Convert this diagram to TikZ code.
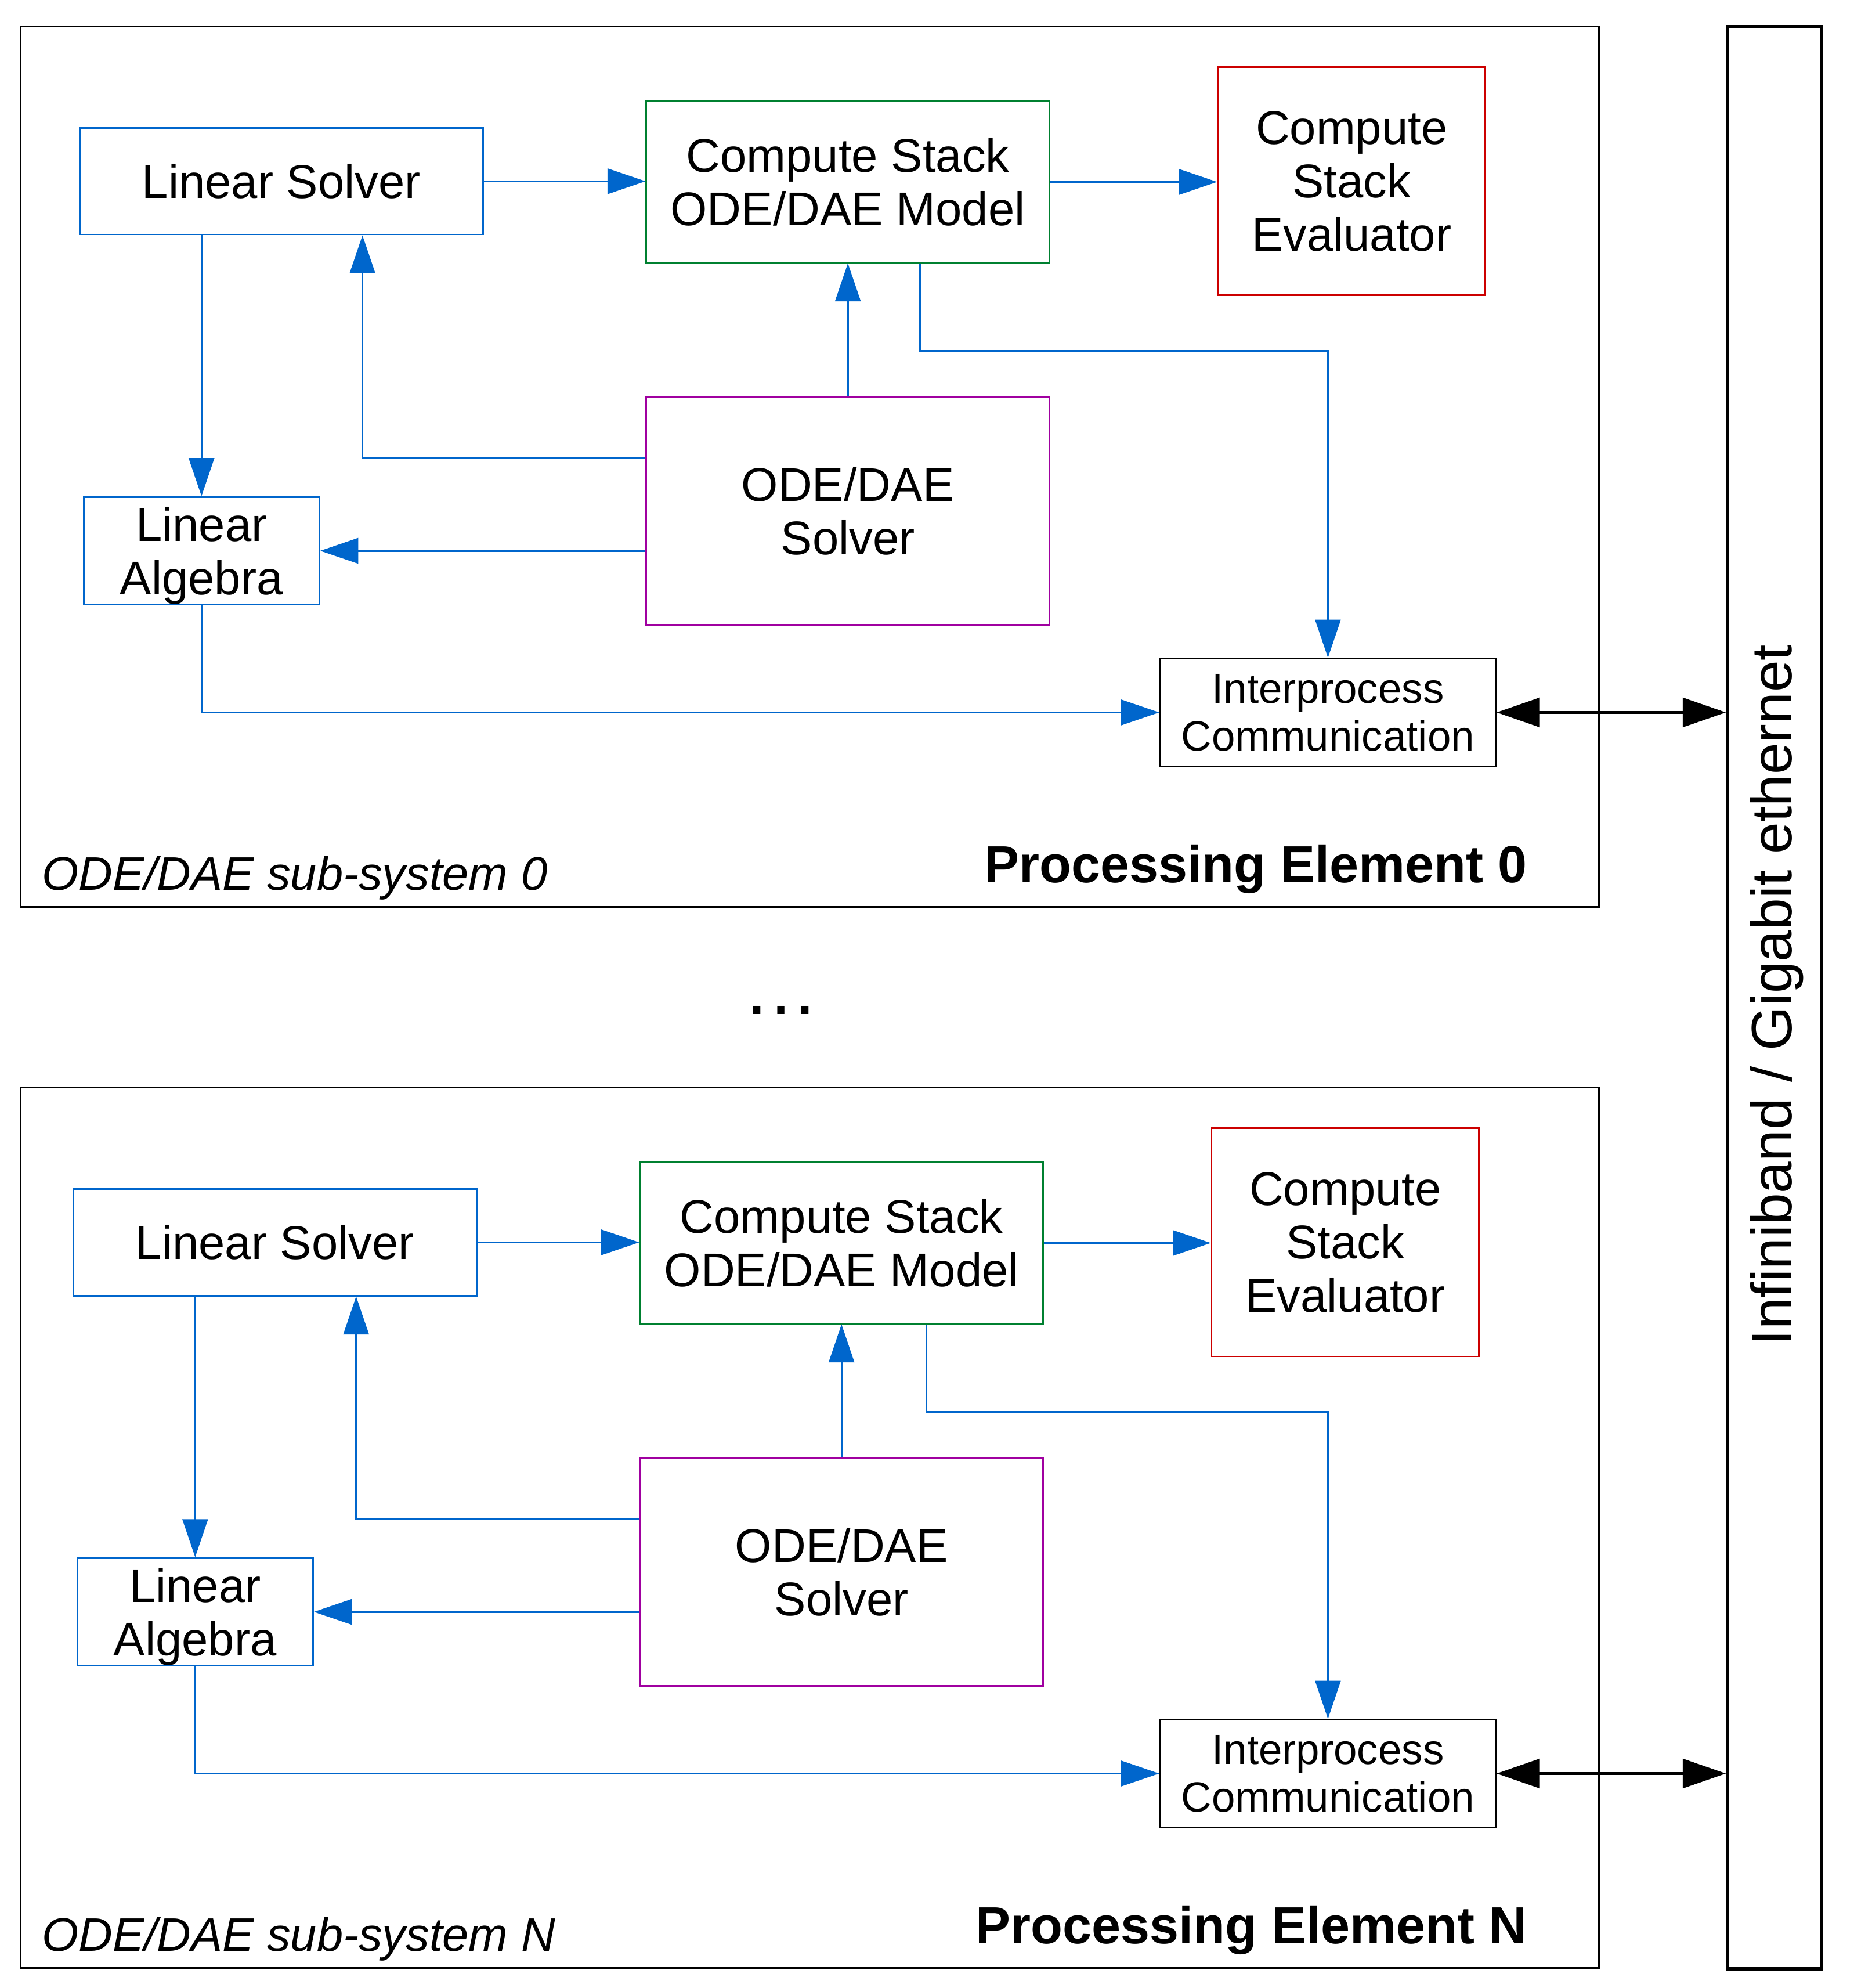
\documentclass[tikz,border=0pt]{standalone}
\usepackage{fontspec}
\setmainfont{Liberation Sans}
\usetikzlibrary{arrows.meta}
\definecolor{cblue}{RGB}{0,102,204}
\definecolor{cgreen}{RGB}{0,128,48}
\definecolor{cred}{RGB}{204,0,0}
\definecolor{cpurple}{RGB}{160,0,160}
\tikzset{
  box/.style={draw, line width=1.3pt, inner sep=0pt, align=center, font=\fontsize{37.3}{42}\selectfont},
  bluebox/.style={box, draw=cblue},
  greenbox/.style={box, draw=cgreen},
  redbox/.style={box, draw=cred},
  purplebox/.style={box, draw=cpurple},
  ipcbox/.style={box, draw=black, font=\fontsize{33.3}{37.5}\selectfont},
  frame/.style={draw=black, line width=1.3pt, inner sep=0pt, minimum width=1245.5pt, minimum height=694.3pt},
  bl/.style={draw=cblue, line width=1.5pt, -{Triangle[length=30pt,width=20pt]}},
  blk/.style={draw=black, line width=2pt, {Triangle[length=34pt,width=23pt]}-{Triangle[length=34pt,width=23pt]}},
  pelabel/.style={anchor=base east, font=\fontsize{41.2}{46}\selectfont\bfseries},
  sslabel/.style={anchor=base west, font=\fontsize{37.2}{42}\selectfont\itshape},
}
% #1 vertical offset, #2 horizontal offset of the boxes, #3 suffix, #4 fork offset, #5 index
\newcommand\peblock[5]{%
  \begin{scope}[shift={(0,#1)}]
    \node[frame] (pe#3) at (638.75,368.15) {};
    \node[bluebox, minimum width=318pt, minimum height=84pt] (ls#3) at ({222+(#2)},143) {Linear Solver};
    \node[greenbox, minimum width=318pt, minimum height=127pt] (csm#3) at ({669+(#2)},143.5) {Compute Stack\\ODE/DAE Model};
    \node[redbox, minimum width=211pt, minimum height=180pt] (cse#3) at ({1066.5+(#2)},143) {Compute\\Stack\\Evaluator};
    \node[purplebox, minimum width=318pt, minimum height=180pt] (ode#3) at ({669+(#2)},403) {ODE/DAE\\Solver};
    \node[bluebox, minimum width=186pt, minimum height=85pt, text depth=0pt] (la#3) at ({159+(#2)},434.5) {Linear\\Algebra};
    \node[ipcbox, minimum width=265pt, minimum height=85pt] (ipc#3) at (1047.8,562) {Interprocess\\Communication};
    \node[sslabel] (ss#3) at (29.5,702) {ODE/DAE sub-system #5};
    \node[pelabel] (pl#3) at (1208.5,696) {Processing Element #5};
    \draw[bl] (ls#3.east) -- (ls#3.east -| csm#3.west);
    \draw[bl] (csm#3.east) -- (csm#3.east -| cse#3.west);
    \draw[bl] (ls#3.south -| la#3.north) -- (la#3.north);
    \draw[bl] ([yshift=42pt]ode#3.west) -| ([xshift=64pt]ls#3.south);
    \draw[bl] (ode#3.west |- la#3.east) -- (la#3.east);
    \draw[bl] (ode#3.north) -- (csm#3.south);
    \draw[bl] ([xshift=#4pt]csm#3.south) -- ++(0,69) -| (ipc#3.north);
    \draw[bl] (la#3.south) |- (ipc#3.west);
  \end{scope}}
\begin{document}
\begin{tikzpicture}[x=1pt,y=-1pt]
  \useasboundingbox (0,0) rectangle (1462.5,1568.2);
  \node[draw=black, line width=2.5pt, inner sep=0pt, minimum width=74pt, minimum height=1532pt] (bar) at (1400,787) {};
  \node[anchor=base, rotate=90, font=\fontsize{45}{50}\selectfont] (bartext) at (1413.5,785) {Infiniband / Gigabit ethernet};
  \peblock{0}{0}{a}{57}{0}
  \peblock{837}{-5}{b}{67}{N}
  \node[anchor=base, font=\fontsize{60}{66}\selectfont] (dots) at (616.5,800) {…};
  \draw[blk] (ipca.east) -- (ipca.east -| bar.west);
  \draw[blk] (ipcb.east) -- (ipcb.east -| bar.west);
\end{tikzpicture}
\end{document}
